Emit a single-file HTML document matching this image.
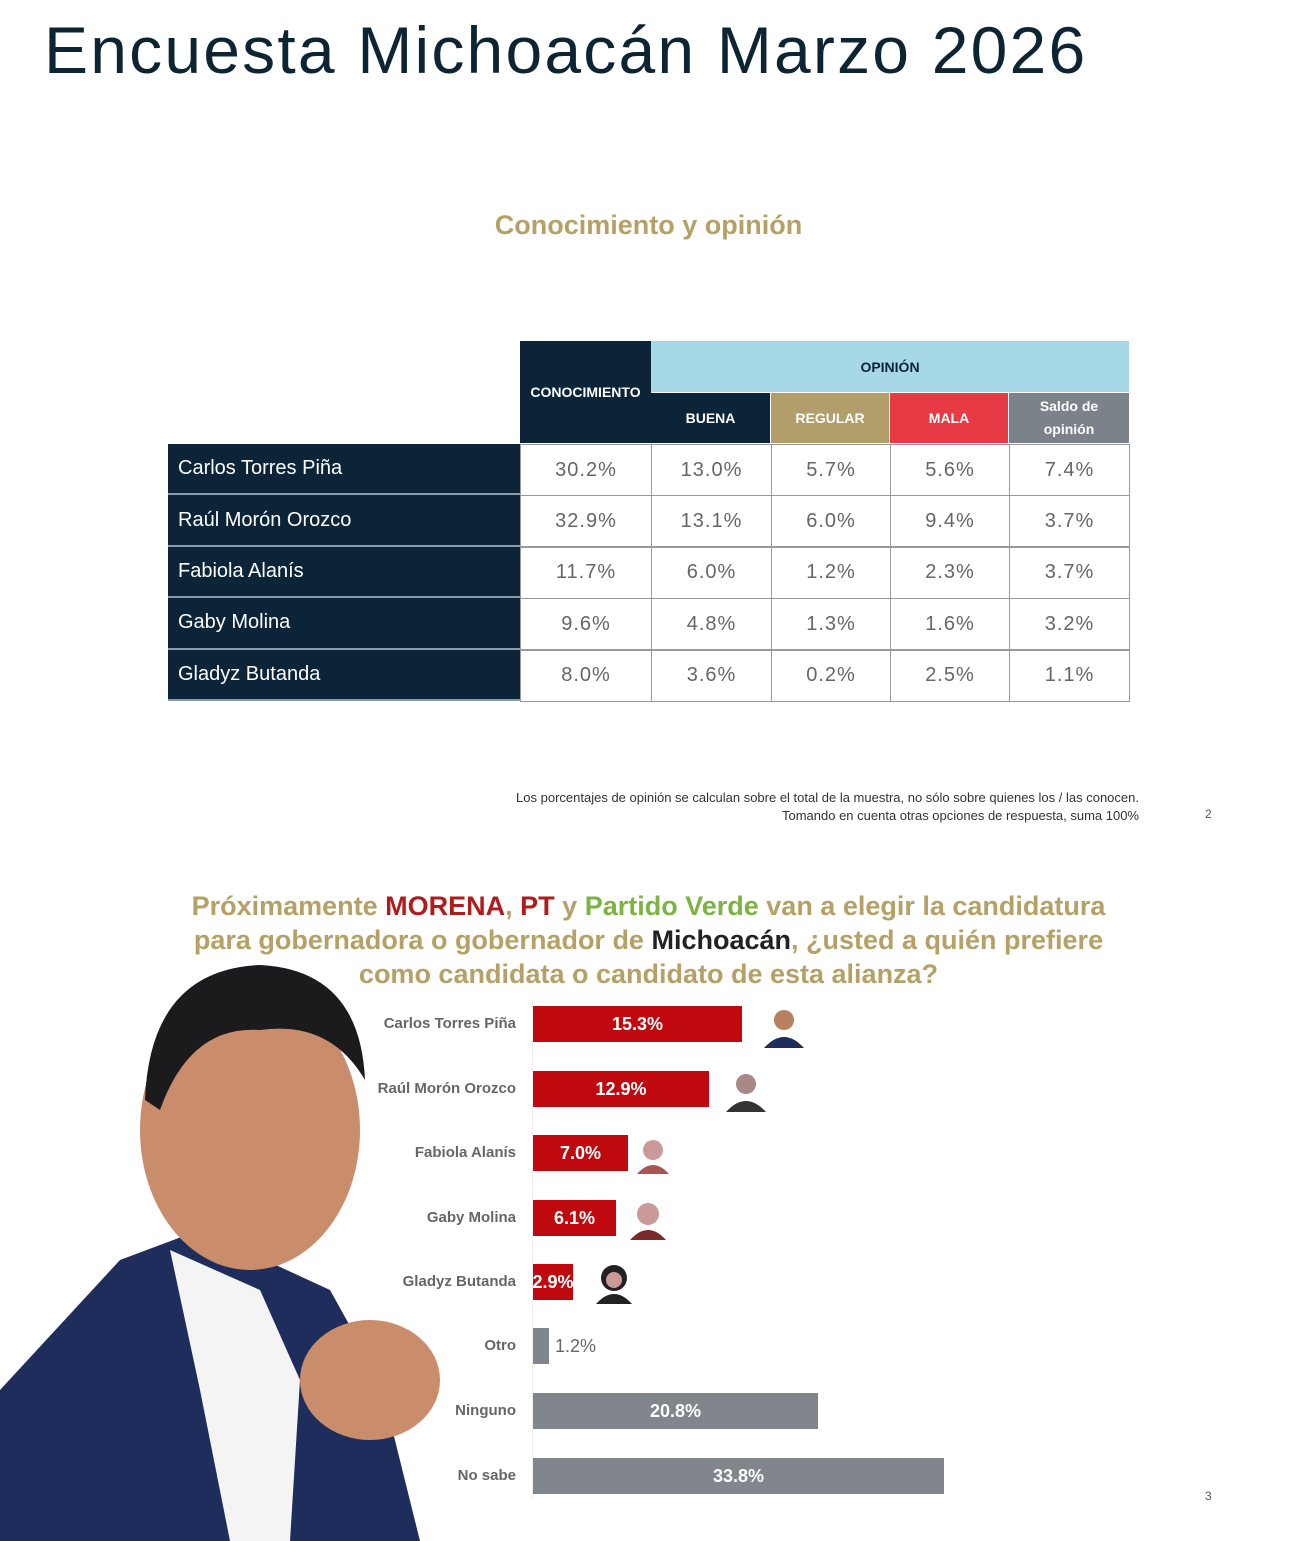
<!DOCTYPE html>
<html><head><meta charset="utf-8"><style>
body{margin:0;width:1289px;height:1541px;background:#fff;position:relative;overflow:hidden;font-family:"Liberation Sans",sans-serif}
.a{position:absolute}
.t{font-size:66px;color:#0d2533;left:44px;top:12px;letter-spacing:2.2px}
.cell{position:absolute;box-sizing:border-box;display:flex;align-items:center;justify-content:center;text-align:center}
.h{color:#fff;font-weight:bold;font-size:14px}
.nm{background:#0b2438;color:#fff;font-size:20px;justify-content:flex-start;padding-left:10px;border-bottom:2px solid #8a9aa6}
.v{border:1px solid #999;color:#666;font-size:20px;letter-spacing:1px}
.bar{position:absolute;left:533px;height:36px;color:#fff;font-weight:bold;font-size:18px;display:flex;align-items:center;justify-content:center}
.lb{position:absolute;right:773px;font-size:15px;color:#666;font-weight:bold;text-align:right;white-space:nowrap}
</style></head><body>
<div class="a t">Encuesta Michoacán Marzo 2026</div>
<div class="a" style="left:0;width:1297px;top:210px;text-align:center;font-size:27px;font-weight:bold;color:#b5a066">Conocimiento y opinión</div>

<div class="cell h" style="left:520px;top:341px;width:131px;height:102px;background:#0b2438">CONOCIMIENTO</div>
<div class="cell" style="left:651px;top:341px;width:478px;height:51px;background:#a6d8e8;color:#0b2438;font-weight:bold;font-size:14px">OPINIÓN</div>
<div class="cell h" style="left:651px;top:393px;width:119px;height:50px;background:#0b2438">BUENA</div>
<div class="cell h" style="left:771px;top:393px;width:118px;height:50px;background:#b29e6b">REGULAR</div>
<div class="cell h" style="left:890px;top:393px;width:118px;height:50px;background:#e63a45">MALA</div>
<div class="cell h" style="left:1009px;top:393px;width:120px;height:50px;background:#7c8289;line-height:23px">Saldo de<br>opinión</div>

<div id="rows"></div>
<script>
var d=[["Carlos Torres Piña","30.2%","13.0%","5.7%","5.6%","7.4%"],["Raúl Morón Orozco","32.9%","13.1%","6.0%","9.4%","3.7%"],["Fabiola Alanís","11.7%","6.0%","1.2%","2.3%","3.7%"],["Gaby Molina","9.6%","4.8%","1.3%","1.6%","3.2%"],["Gladyz Butanda","8.0%","3.6%","0.2%","2.5%","1.1%"]];
var xs=[168,520,651,771,890,1009,1129],h="";
d.forEach(function(r,i){var y=444+i*51.4;
for(var j=0;j<6;j++){h+='<div class="cell '+(j?'v':'nm')+'" style="left:'+xs[j]+'px;top:'+y+'px;width:'+(xs[j+1]-xs[j]+(j?1:0))+'px;height:'+(j?52:51.4)+'px">'+r[j]+'</div>';}});
document.getElementById("rows").innerHTML=h;
</script>

<div class="a" style="right:150px;top:789px;font-size:13px;color:#333;text-align:right;line-height:18px">Los porcentajes de opinión se calculan sobre el total de la muestra, no sólo sobre quienes los / las conocen.<br>Tomando en cuenta otras opciones de respuesta, suma 100%</div>
<div class="a" style="left:1205px;top:807px;font-size:12px;color:#555">2</div>

<div class="a" style="left:0;width:1297px;top:889px;text-align:center;font-size:27px;font-weight:bold;color:#b5a066;line-height:34px">Próximamente <span style="color:#b01c1c">MORENA</span>, <span style="color:#b01c1c">PT</span> y <span style="color:#7cb342">Partido Verde</span> van a elegir la candidatura<br>para gobernadora o gobernador de <span style="color:#222">Michoacán</span>, ¿usted a quién prefiere<br>como candidata o candidato de esta alianza?</div>

<svg class="a" style="left:0;top:960px" width="460" height="581">
<path d="M0 430 L120 300 L200 270 L330 330 L380 420 L420 581 L0 581Z" fill="#1f2d5c"/>
<path d="M170 290 L260 330 L300 420 L290 581 L230 581 L200 430Z" fill="#f4f4f4"/>
<ellipse cx="250" cy="170" rx="110" ry="140" fill="#c98d6c"/>
<path d="M145 140 Q150 10 260 5 Q360 10 365 120 Q330 60 260 70 Q190 65 160 150Z" fill="#1b1a1d"/>
<ellipse cx="370" cy="420" rx="70" ry="60" fill="#c98d6c"/>
</svg>

<div class="lb" style="top:1015px">Carlos Torres Piña</div>
<div class="lb" style="top:1080px">Raúl Morón Orozco</div>
<div class="lb" style="top:1144px">Fabiola Alanís</div>
<div class="lb" style="top:1209px">Gaby Molina</div>
<div class="lb" style="top:1273px">Gladyz Butanda</div>
<div class="lb" style="top:1337px">Otro</div>
<div class="lb" style="top:1402px">Ninguno</div>
<div class="lb" style="top:1467px">No sabe</div>
<div class="a" style="left:532px;top:1000px;width:1px;height:500px;background:#eee"></div>
<div class="bar" style="top:1006px;width:209px;background:#c0090f">15.3%</div>
<div class="bar" style="top:1071px;width:176px;background:#c0090f">12.9%</div>
<div class="bar" style="top:1135px;width:95px;background:#c0090f">7.0%</div>
<div class="bar" style="top:1200px;width:83px;background:#c0090f">6.1%</div>
<div class="bar" style="top:1264px;width:40px;background:#c0090f">2.9%</div>
<div class="bar" style="top:1328px;width:16px;background:#80868c"></div>
<div class="a" style="left:555px;top:1336px;font-size:18px;color:#666">1.2%</div>
<div class="bar" style="top:1393px;width:285px;background:#80868c">20.8%</div>
<div class="bar" style="top:1458px;width:411px;background:#80868c">33.8%</div>
<svg class="a" style="left:760px;top:1002px" width="50" height="46"><circle cx="24" cy="18" r="10" fill="#b98060"/><path d="M4 46 Q24 24 44 46Z" fill="#1f2d5c"/></svg>
<svg class="a" style="left:722px;top:1066px" width="50" height="46"><circle cx="24" cy="18" r="10" fill="#a88"/><path d="M4 46 Q24 24 44 46Z" fill="#333"/></svg>
<svg class="a" style="left:633px;top:1132px" width="40" height="42"><circle cx="20" cy="18" r="10" fill="#c99"/><path d="M4 42 Q20 24 36 42Z" fill="#a55"/></svg>
<svg class="a" style="left:626px;top:1196px" width="44" height="44"><circle cx="22" cy="18" r="11" fill="#c99"/><path d="M4 44 Q22 24 40 44Z" fill="#7a2a2a"/></svg>
<svg class="a" style="left:592px;top:1260px" width="44" height="44"><circle cx="22" cy="18" r="13" fill="#222"/><circle cx="22" cy="20" r="8" fill="#c99"/><path d="M4 44 Q22 24 40 44Z" fill="#222"/></svg>
<div class="a" style="left:1205px;top:1489px;font-size:12px;color:#555">3</div>
</body></html>
